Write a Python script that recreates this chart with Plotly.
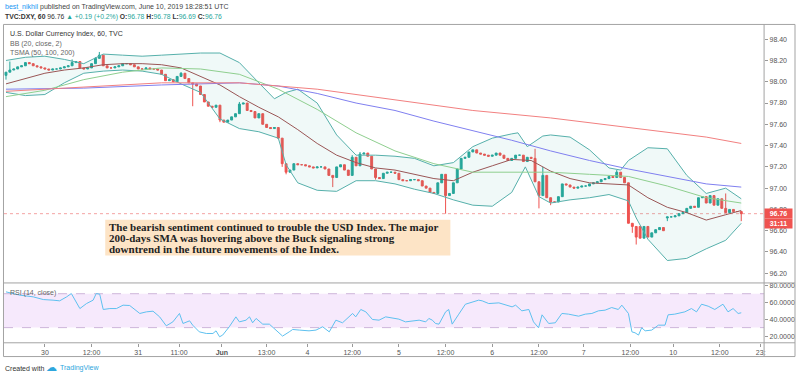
import plotly.graph_objects as go

# ---------------- data ----------------
closes = [98.09,98.11,98.12,98.14,98.15,98.18,98.17,98.15,98.14,98.13,
          98.12,98.11,98.12,98.12,98.13,98.14,98.15,98.18,98.19,98.13,
          98.12,98.13,98.17,98.22,98.25,98.15,98.13,98.13,98.14,98.15,
          98.17,98.17,98.16,98.14,98.12,98.12,98.13,98.12,98.12,98.11,
          98.07,98.01,98.02,98.00,98.05,98.08,98.03,97.99,97.98,97.96,
          97.88,97.81,97.77,97.76,97.78,97.64,97.62,97.64,97.67,97.70,
          97.79,97.80,97.73,97.72,97.66,97.70,97.60,97.57,97.56,97.57,
          97.47,97.23,97.15,97.17,97.23,97.22,97.22,97.21,97.20,97.19,
          97.20,97.20,97.18,97.12,97.10,97.20,97.22,97.17,97.12,97.29,
          97.21,97.32,97.33,97.30,97.18,97.10,97.09,97.14,97.15,97.15,
          97.14,97.08,97.07,97.07,97.08,97.08,97.07,97.02,97.00,96.96,
          96.95,97.05,97.13,96.93,96.95,97.05,97.18,97.28,97.29,97.34,
          97.36,97.33,97.32,97.31,97.30,97.31,97.33,97.31,97.28,97.26,
          97.28,97.31,97.31,97.25,97.29,97.28,97.06,96.93,97.12,96.91,
          96.87,96.87,96.92,97.04,97.03,97.01,97.00,97.01,97.02,97.02,
          97.04,97.05,97.06,97.08,97.09,97.11,97.10,97.15,97.10,97.05,
          96.67,96.64,96.54,96.53,96.64,96.54,96.58,96.61,96.63,96.60,
          96.73,96.73,96.74,96.76,96.77,96.81,96.83,96.82,96.91,96.92,
          96.86,96.93,96.84,96.90,96.81,96.77,96.80,96.78,96.78,96.76]
open_exceptions = {0: 98.06, 163: 96.64, 170: 96.72}
high_wicks = {1: 98.19, 17: 98.21, 23: 98.23, 24: 98.28, 45: 98.09, 60: 97.81,
              89: 97.31, 91: 97.34, 136: 97.37, 138: 97.20, 157: 97.17, 185: 96.95}
low_wicks = {0: 98.02, 48: 97.77, 55: 97.62, 71: 97.20, 72: 97.13, 84: 97.01, 95: 97.08,
             113: 96.76, 137: 96.81, 140: 96.84, 161: 96.58, 162: 96.47, 170: 96.69, 189: 96.69}

bb_upper_x = [0,5,10,15,20,25,30,35,40,45,50,55,60,65,69,72,75,80,85,90,95,100,105,110,115,
              120,125,130,131.6,134,138,140,145,150,155,158,160,165,170,175,180,185,189]
bb_upper = [98.20,98.23,98.24,98.21,98.17,98.26,98.25,98.24,98.25,98.26,98.27,98.27,98.18,97.99,
            97.84,97.90,97.93,97.80,97.50,97.31,97.31,97.30,97.28,97.21,97.24,97.39,97.47,97.51,
            97.52,97.39,97.49,97.50,97.48,97.36,97.19,97.17,97.26,97.38,97.37,97.12,96.95,97.00,96.90]
bb_lower_x = [0,5,10,15,20,25,30,35,40,45,50,55,60,65,70,72,75,80,85,90,95,100,105,110,115,
              120,125,130,133.5,135,137,140,145,150,155,160,162,165,170,175,180,185,189]
bb_lower = [97.90,97.87,97.88,97.99,98.08,98.10,98.11,98.10,98.07,97.98,97.90,97.65,97.56,97.53,
            97.47,97.22,97.05,96.98,96.97,97.07,97.07,97.04,96.99,96.95,96.89,96.84,96.83,96.96,
            97.20,97.08,96.92,96.86,96.89,96.91,96.94,96.88,96.72,96.52,96.32,96.34,96.43,96.51,96.67]
bb_mid_x = [0,5,10,15,20,25,30,35,40,45,50,55,60,65,70,75,80,85,90,95,100,105,110,115,120,
            125,130,135,140,145,150,155,160,165,170,175,180,185,189]
bb_mid = [97.98,98.03,98.08,98.11,98.13,98.16,98.17,98.17,98.16,98.13,
          98.05,97.97,97.86,97.76,97.67,97.55,97.42,97.31,97.24,97.19,
          97.17,97.13,97.09,97.07,97.15,97.21,97.27,97.26,97.16,97.09,
          97.05,97.04,97.03,96.91,96.82,96.77,96.70,96.75,96.79]
sma50_x = [0,10,20,30,40,50,60,70,80,90,100,110,120,130,140,150,160,170,180,189]
sma50 = [97.86,97.92,98.02,98.09,98.13,98.12,98.07,97.93,97.74,97.52,97.35,97.23,97.15,97.15,
         97.15,97.13,97.11,97.02,96.91,96.86]
sma100_x = [0,20,40,60,70,80,90,100,110,120,130,140,150,160,170,180,189]
sma100 = [97.93,97.94,97.97,97.99,97.96,97.89,97.80,97.73,97.63,97.54,97.45,97.35,97.26,97.18,
          97.11,97.04,97.01]
sma200_x = [0,20,40,60,80,100,120,140,160,180,189]
sma200 = [97.91,97.95,97.99,97.99,97.93,97.83,97.73,97.66,97.57,97.48,97.42]

rsi_x = [0,3.6,7.0,9.6,12.1,13.8,15.6,16.8,19.0,20.7,22.4,23.2,24.1,25.0,26.7,28.4,30.1,31.8,
         34.4,36.1,37.8,39.5,41.2,42.9,44.6,45.5,47.2,48.0,49.7,51.5,53.2,54.0,54.9,55.7,57.4,
         59.1,60.0,61.7,62.6,63.4,64.3,66.0,67.7,69.4,71.1,72.8,73.7,75.4,77.9,79.7,81.4,83.1,
         84.8,86.5,88.2,89.1,89.9,91.2,92.5,94.2,95.9,97.6,101.0,102.7,106.2,107.9,108.7,109.6,
         110.4,111.3,113.0,113.8,114.7,115.6,116.4,118.1,119.8,121.5,122.4,124.1,126.7,128.4,
         130.1,131.0,132.6,134.4,135.6,136.9,137.8,139.5,141.2,142.9,144.6,147.2,148.9,150.6,
         152.3,154.0,155.7,157.4,158.3,160.0,160.9,161.7,162.6,163.4,164.3,166.0,167.7,169.4,
         170.2,171.9,174.5,176.2,177.5,178.8,180.5,182.2,184.3,185.6,186.9,188.2,189.0]
rsi = [72.2,68.3,66.3,63.1,62.4,61.6,66.3,70.2,52.5,58.4,62.4,70.2,69.4,51.4,52.5,52.5,56.5,56.1,
       46.7,48.6,49.4,42.7,32.1,36.8,46.7,34.9,38.0,32.9,25.0,23.1,23.1,26.2,19.2,21.2,31.0,
       42.7,36.8,38.8,42.7,35.7,40.8,34.1,34.1,27.1,20.0,25.0,27.8,27.1,26.2,27.1,31.0,25.0,
       38.8,35.7,42.7,46.7,42.7,51.4,48.6,39.6,38.8,42.7,40.0,36.8,38.8,36.8,40.8,38.8,
       34.9,34.1,48.6,51.4,34.1,40.8,45.9,57.6,60.4,62.4,61.6,58.4,59.2,56.5,
       54.5,56.5,49.8,51.4,36.8,29.8,45.1,34.9,35.7,46.7,45.9,43.5,45.9,46.7,
       49.8,50.6,53.7,51.4,56.5,46.7,25.0,23.9,21.2,29.8,26.2,27.1,32.9,32.9,
       45.1,45.9,48.6,52.5,48.6,57.6,55.3,51.4,57.6,48.6,52.5,46.7,47.5]

time_tick_pos = [10, 22, 34, 44.5, 55.5, 67, 77.5, 89, 101, 113, 125, 137, 148.5, 160.5, 171.5, 183.5, 194]
time_tick_text = ["30", "12:00", "31", "11:00", "<b>Jun</b>", "13:00", "4", "12:00", "5", "12:00",
                  "6", "12:00", "7", "12:00", "10", "12:00", "23:"]
price_ticks = [96.2, 96.4, 96.6, 96.8, 97.0, 97.2, 97.4, 97.6, 97.8, 98.0, 98.2, 98.4]
rsi_ticks = [20, 40, 60, 80]

# ---------------- derived OHLC ----------------
n = len(closes)
idx = list(range(n))
opens = [open_exceptions.get(i, closes[i - 1] if i > 0 else closes[0]) for i in idx]
highs = [high_wicks.get(i, max(opens[i], closes[i])) for i in idx]
lows = [low_wicks.get(i, min(opens[i], closes[i])) for i in idx]

W, H = 800, 378
def px(x): return x / W
def py(y): return 1 - y / H

FONT = "Liberation Sans"
UP, DOWN = "#26a69a", "#ef5350"

fig = go.Figure()
fig.add_trace(go.Scatter(x=bb_upper_x, y=bb_upper, mode="lines",
                         line=dict(color="#56b0ab", width=1), hoverinfo="skip", xaxis="x", yaxis="y"))
fig.add_trace(go.Scatter(x=bb_lower_x, y=bb_lower, mode="lines", fill="tonexty",
                         fillcolor="rgba(38,166,154,0.07)",
                         line=dict(color="#56b0ab", width=1), hoverinfo="skip", xaxis="x", yaxis="y"))
fig.add_trace(go.Scatter(x=bb_mid_x, y=bb_mid, mode="lines",
                         line=dict(color="#9a5656", width=1), xaxis="x", yaxis="y"))
fig.add_trace(go.Scatter(x=sma50_x, y=sma50, mode="lines",
                         line=dict(color="#8fcf8f", width=1), xaxis="x", yaxis="y"))
fig.add_trace(go.Scatter(x=sma100_x, y=sma100, mode="lines",
                         line=dict(color="#8080f0", width=1), xaxis="x", yaxis="y"))
fig.add_trace(go.Scatter(x=sma200_x, y=sma200, mode="lines",
                         line=dict(color="#f28080", width=1), xaxis="x", yaxis="y"))
fig.add_trace(go.Candlestick(x=idx, open=opens, high=highs, low=lows, close=closes,
                             increasing=dict(line=dict(color=UP, width=1), fillcolor=UP),
                             decreasing=dict(line=dict(color=DOWN, width=1), fillcolor=DOWN),
                             whiskerwidth=0, xaxis="x", yaxis="y"))
fig.add_trace(go.Scatter(x=rsi_x, y=rsi, mode="lines",
                         line=dict(color="#5ec0ef", width=1), xaxis="x", yaxis="y2"))

axis_font = dict(family=FONT, size=7, color="#555")
fig.update_layout(
    width=W, height=H, margin=dict(l=0, r=0, t=0, b=0),
    paper_bgcolor="white", plot_bgcolor="white", showlegend=False,
    font=dict(family=FONT), hovermode=False,
    xaxis=dict(domain=[px(4), px(766)], range=[-0.51, 194.87], anchor="y2",
               tickvals=time_tick_pos, ticktext=time_tick_text, ticks="outside", ticklen=3,
               tickcolor="#999", tickfont=axis_font, showgrid=False, zeroline=False,
               showline=False, rangeslider=dict(visible=False), fixedrange=True),
    yaxis=dict(domain=[py(282.7), py(24)], range=[96.109, 98.534], side="right", anchor="x",
               tickvals=price_ticks, ticktext=[f"{v:.2f}" for v in price_ticks],
               ticks="outside", ticklen=3, tickcolor="#999", tickfont=axis_font,
               showgrid=False, zeroline=False, showline=False),
    yaxis2=dict(domain=[py(342.7), py(282.7)], range=[12.1, 82.7], side="right", anchor="x",
                tickvals=rsi_ticks, ticktext=[f"{v:.4f}" for v in rsi_ticks],
                ticks="outside", ticklen=3, tickcolor="#999", tickfont=axis_font,
                showgrid=False, zeroline=False, showline=False),
)

frame = "#a3a3a3"
shapes = [
    dict(type="rect", xref="paper", yref="y2", x0=px(4), x1=px(766), y0=30, y1=70,
         fillcolor="rgba(188,88,228,0.13)", line=dict(width=0), layer="below"),
    dict(type="line", xref="paper", yref="y2", x0=px(4), x1=px(766), y0=70, y1=70,
         line=dict(color="#cdb5da", width=1, dash="dash"), layer="below"),
    dict(type="line", xref="paper", yref="y2", x0=px(4), x1=px(766), y0=30, y1=30,
         line=dict(color="#cdb5da", width=1, dash="dash"), layer="below"),
    dict(type="line", xref="paper", yref="y", x0=px(4), x1=px(766), y0=closes[-1], y1=closes[-1],
         line=dict(color="#f4a3a3", width=1, dash="dot"), layer="below"),
    dict(type="rect", xref="paper", yref="paper", x0=px(105.5), x1=px(451.5), y0=py(255.3), y1=py(219.3),
         fillcolor="#fde4c6", line=dict(width=0)),
    dict(type="rect", xref="paper", yref="paper", x0=px(3.5), x1=px(797), y0=py(356.5), y1=py(23.5),
         line=dict(color=frame, width=1)),
    dict(type="line", xref="paper", yref="paper", x0=px(766), x1=px(766), y0=py(356.5), y1=py(23.5),
         line=dict(color=frame, width=1)),
    dict(type="line", xref="paper", yref="paper", x0=px(3.5), x1=px(797), y0=py(282.7), y1=py(282.7),
         line=dict(color=frame, width=1)),
    dict(type="line", xref="paper", yref="paper", x0=px(3.5), x1=px(797), y0=py(342.7), y1=py(342.7),
         line=dict(color=frame, width=1)),
]
fig.update_layout(shapes=shapes)

def txt(x, y, text, size=7, color="#444", family=FONT, **kw):
    return dict(xref="paper", yref="paper", x=px(x), y=py(y), text=text, showarrow=False,
                xanchor="left", yanchor="middle", align="left",
                font=dict(family=family, size=size, color=color), **kw)

G = "#26a69a"
ann = [
    txt(3, 6, "<span style='color:#2196f3'>best_nikhil</span> published on TradingView.com, June 10, 2019 18:28:51 UTC",
        size=7),
    txt(3, 16.5, f"<b>TVC:DXY, 60</b> {closes[-1]:.2f} <span style='color:{G}'>▲ +0.19 (+0.2%)</span> "
        f"<b>O:</b><span style='color:{G}'>96.78</span> <b>H:</b><span style='color:{G}'>96.78</span> "
        f"<b>L:</b><span style='color:{G}'>96.69</span> <b>C:</b><span style='color:{G}'>{closes[-1]:.2f}</span>",
        size=6.8, color="#333"),
    txt(8, 33.3, "U.S. Dollar Currency Index, 60, TVC", size=7, color="#333"),
    txt(8, 42.7, "BB (20, close, 2)", size=7, color="#666"),
    txt(8, 52, "TSMA (50, 100, 200)", size=7, color="#666"),
    txt(8, 292.3, "RSI (14, close)", size=7, color="#666"),
    txt(107, 227, "<b>The bearish sentiment continued to trouble the USD Index. The major</b>",
        size=11, color="#222", family="Liberation Serif"),
    txt(107, 237.8, "<b>200-days SMA was hovering above the Buck signaling strong</b>",
        size=11, color="#222", family="Liberation Serif"),
    txt(107, 248.3, "<b>downtrend in the future movements of the Index.</b>",
        size=11, color="#222", family="Liberation Serif"),
    txt(3, 368, "Created with", size=7, color="#333"),
    txt(44, 367.5, "☁", size=11, color="#2ea6dd", family="DejaVu Sans"),
    txt(58, 368, "TradingView", size=7, color="#2ea6dd"),
    dict(xref="paper", yref="y", x=px(766), y=closes[-1], text=f"<b>{closes[-1]:.2f}</b>",
         showarrow=False, xanchor="left", yanchor="middle", bgcolor=DOWN, width=25,
         font=dict(family=FONT, size=7, color="white"), borderpad=1),
    dict(xref="paper", yref="y", x=px(766), y=closes[-1], yshift=-10, text="<b>31:11</b>",
         showarrow=False, xanchor="left", yanchor="middle", bgcolor=DOWN, width=25,
         font=dict(family=FONT, size=7, color="white"), borderpad=1),
]
fig.update_layout(annotations=ann)

fig.write_html("out.html", config={"displayModeBar": False, "staticPlot": True},
               post_script="document.body.style.margin='0px';document.body.style.overflow='hidden';")
